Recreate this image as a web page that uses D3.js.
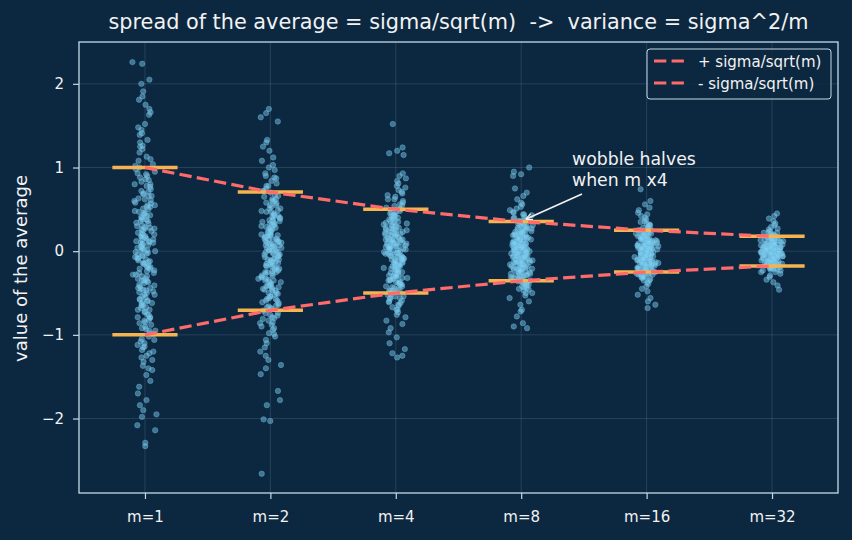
<!DOCTYPE html>
<html>
<head>
<meta charset="utf-8">
<script src="https://cdn.jsdelivr.net/npm/d3@7"></script>
<style>
  body { margin: 0; background: #0c2841; }
  svg { display: block; font-family: "DejaVu Sans", sans-serif; }
</style>
</head>
<body>
<svg id="chart" width="852" height="540"></svg>
<script>
// categories and their theoretical spread sigma/sqrt(m), sigma = 1
const groups = ["m=1", "m=2", "m=4", "m=8", "m=16", "m=32"];
const spread = [1.0, 0.707, 0.5, 0.354, 0.25, 0.177];

const samples_m1 = [2.26, 2.24, 2.05, 2.0, 1.91, 1.85, 1.81, 1.75, 1.7, 1.66, 1.63, 1.52, 1.48, 1.45, 1.41, 1.39, 1.33, 1.3, 1.26, 1.22, 1.18, 1.13, 1.08, 1.04, 1.0, 0.98, 0.95, 0.92, 0.9, 0.86, 0.83, 0.8, 0.77, 0.74, 0.71, 0.69, 0.66, 0.63, 0.61, 0.58, 0.55, 0.53, 0.5, 0.48, 0.45, 0.43, 0.41, 0.38, 0.36, 0.34, 0.31, 0.29, 0.27, 0.25, 0.22, 0.2, 0.18, 0.16, 0.14, 0.12, 0.1, 0.08, 0.06, 0.04, 0.02, 0.01, -0.01, -0.03, -0.05, -0.07, -0.09, -0.11, -0.13, -0.15, -0.17, -0.19, -0.21, -0.24, -0.26, -0.28, -0.3, -0.33, -0.35, -0.37, -0.4, -0.42, -0.44, -0.47, -0.49, -0.52, -0.54, -0.57, -0.6, -0.62, -0.65, -0.68, -0.7, -0.73, -0.76, -0.79, -0.82, -0.85, -0.88, -0.92, -0.95, -0.99, -1.02, -1.06, -1.1, -1.14, -1.18, -1.22, -1.27, -1.32, -1.37, -1.42, -1.48, -1.55, -1.62, -1.7, -1.78, -1.84, -1.9, -1.95, -1.98, -2.08, -2.14, -2.29, -2.33,
    0.03, -0.12, 0.27, -0.35, 0.51, -0.58, 0.15, -0.04, 0.66, -0.79, 0.38, -0.21, 0.09, -0.46, 0.72, -0.95, 0.21, -0.15, 0.44, -0.63, 0.85, -1.08, 0.0, -0.3, 0.57, -0.72, 0.12, -0.08, 0.33, -0.52, 0.93, -1.2, 0.18, -0.26, 0.6, -0.86, 0.05, -0.41, 0.47, -0.67, 1.1, -1.3, 0.24, -0.02, 0.4, -0.55, 0.78, -0.9, 0.1, -0.18, 0.3, -0.44, 1.02, -1.15, 0.07, -0.33, 0.53, -0.76, 0.2, -0.1, 0.36, -0.5, 0.68, -0.98, 0.14, -0.23, 1.25, -1.4, 0.01, -0.38, 0.46, -0.61, 0.28, -0.06, 0.62, -0.83, 0.17, -0.28, 0.88, -1.05, -0.48, -0.7, -0.14, 0.42, -0.59, -0.93, 0.26, -0.36, -1.12, 0.8, -0.2, -0.65, 0.55, -0.8, 0.11, -1.25, -0.45];
const samples_m2 = [1.7, 1.65, 1.6, 1.55, 1.33, 1.3, 1.25, 1.2, 1.12, 1.08, 1.03, 1.0, 0.97, 0.93, 0.9, 0.87, 0.84, 0.81, 0.78, 0.75, 0.72, 0.7, 0.67, 0.65, 0.62, 0.6, 0.58, 0.55, 0.53, 0.51, 0.49, 0.47, 0.45, 0.43, 0.41, 0.39, 0.37, 0.35, 0.33, 0.31, 0.29, 0.27, 0.26, 0.24, 0.22, 0.2, 0.19, 0.17, 0.15, 0.14, 0.12, 0.1, 0.09, 0.07, 0.05, 0.04, 0.02, 0.01, -0.01, -0.02, -0.04, -0.05, -0.07, -0.09, -0.1, -0.12, -0.13, -0.15, -0.17, -0.18, -0.2, -0.22, -0.24, -0.25, -0.27, -0.29, -0.31, -0.33, -0.35, -0.37, -0.39, -0.41, -0.43, -0.45, -0.47, -0.5, -0.52, -0.54, -0.57, -0.59, -0.62, -0.65, -0.68, -0.71, -0.74, -0.77, -0.8, -0.83, -0.86, -0.9, -0.94, -0.98, -1.02, -1.06, -1.1, -1.15, -1.2, -1.25, -1.3, -1.36, -1.4, -1.47, -1.67, -1.78, -1.84, -2.01, -2.03, -2.66,
    0.02, -0.09, 0.19, -0.25, 0.36, -0.41, 0.11, -0.03, 0.47, -0.56, 0.27, -0.15, 0.06, -0.33, 0.51, -0.67, 0.15, -0.11, 0.31, -0.45, 0.6, -0.76, 0.0, -0.21, 0.4, -0.51, 0.08, -0.06, 0.23, -0.37, 0.66, -0.85, 0.13, -0.18, 0.42, -0.61, 0.04, -0.29, 0.33, -0.47, 0.78, -0.92, 0.17, -0.01, 0.28, -0.39, 0.55, -0.64, 0.07, -0.13, 0.21, -0.31, 0.72, -0.81, 0.05, -0.23, 0.37, -0.54, 0.14, -0.07, 0.25, -0.35, 0.48, -0.69, 0.1, -0.16, 0.88, -0.99, 0.01, -0.27, 0.33, -0.43, 0.2, -0.04, 0.44, -0.59, 0.12, -0.2, 0.62, -0.74, -0.34, -0.5, -0.1, 0.3, -0.42, -0.66, 0.18, -0.25, -0.79, 0.57, -0.14, -0.46, 0.39, -0.57, 0.08, -0.88];
const samples_m4 = [1.52, 1.24, 1.2, 1.17, 1.15, 0.93, 0.9, 0.87, 0.84, 0.81, 0.78, 0.76, 0.73, 0.71, 0.69, 0.67, 0.65, 0.62, 0.6, 0.58, 0.56, 0.54, 0.52, 0.5, 0.48, 0.47, 0.45, 0.43, 0.42, 0.4, 0.38, 0.37, 0.35, 0.34, 0.32, 0.31, 0.29, 0.28, 0.26, 0.25, 0.23, 0.22, 0.21, 0.19, 0.18, 0.17, 0.15, 0.14, 0.13, 0.11, 0.1, 0.09, 0.07, 0.06, 0.05, 0.03, 0.02, 0.01, -0.01, -0.02, -0.03, -0.05, -0.06, -0.07, -0.09, -0.1, -0.11, -0.13, -0.14, -0.16, -0.17, -0.18, -0.2, -0.21, -0.23, -0.24, -0.26, -0.27, -0.29, -0.3, -0.32, -0.33, -0.35, -0.37, -0.38, -0.4, -0.42, -0.44, -0.46, -0.48, -0.5, -0.52, -0.54, -0.56, -0.59, -0.61, -0.64, -0.67, -0.7, -0.73, -0.76, -0.79, -0.83, -0.87, -0.92, -0.97, -1.03, -1.1, -1.17, -1.22, -1.25, -1.27,
    0.02, -0.06, 0.13, -0.18, 0.25, -0.29, 0.08, -0.02, 0.33, -0.39, 0.19, -0.1, 0.04, -0.23, 0.36, -0.47, 0.1, -0.08, 0.22, -0.32, 0.42, -0.54, 0.0, -0.15, 0.28, -0.36, 0.06, -0.04, 0.16, -0.26, 0.46, -0.6, 0.09, -0.13, 0.3, -0.43, 0.03, -0.2, 0.24, -0.34, 0.55, -0.65, 0.12, -0.01, 0.2, -0.28, 0.39, -0.45, 0.05, -0.09, 0.15, -0.22, 0.51, -0.57, 0.04, -0.16, 0.26, -0.38, 0.1, -0.05, 0.18, -0.25, 0.34, -0.49, 0.07, -0.11, 0.62, -0.7, 0.01, -0.19, 0.23, -0.3, 0.14, -0.03, 0.31, -0.42, 0.09, -0.14, 0.44, -0.52, -0.24, -0.35, -0.07, 0.21, -0.3, -0.47, 0.13, -0.18, -0.56, 0.4, -0.1, -0.33, 0.27, -0.4, 0.06, -0.62];
const samples_m8 = [1.0, 0.95, 0.92, 0.9, 0.75, 0.7, 0.66, 0.62, 0.58, 0.56, 0.53, 0.51, 0.49, 0.47, 0.46, 0.44, 0.43, 0.41, 0.4, 0.38, 0.37, 0.36, 0.34, 0.33, 0.32, 0.31, 0.3, 0.28, 0.27, 0.26, 0.25, 0.24, 0.23, 0.22, 0.21, 0.2, 0.19, 0.18, 0.17, 0.16, 0.15, 0.14, 0.13, 0.12, 0.11, 0.1, 0.09, 0.08, 0.07, 0.06, 0.05, 0.04, 0.03, 0.02, 0.01, 0.0, -0.01, -0.02, -0.03, -0.04, -0.05, -0.06, -0.07, -0.08, -0.09, -0.1, -0.11, -0.12, -0.13, -0.14, -0.15, -0.16, -0.17, -0.18, -0.19, -0.2, -0.21, -0.22, -0.24, -0.25, -0.26, -0.27, -0.29, -0.3, -0.31, -0.33, -0.34, -0.36, -0.37, -0.39, -0.41, -0.43, -0.45, -0.47, -0.5, -0.53, -0.56, -0.6, -0.64, -0.7, -0.72, -0.78, -0.86, -0.9, -0.92,
    0.01, -0.04, 0.09, -0.13, 0.18, -0.2, 0.06, -0.01, 0.23, -0.28, 0.13, -0.07, 0.03, -0.16, 0.25, -0.33, 0.07, -0.05, 0.16, -0.22, 0.3, -0.38, 0.0, -0.11, 0.2, -0.25, 0.04, -0.03, 0.11, -0.18, 0.33, -0.42, 0.06, -0.09, 0.21, -0.3, 0.02, -0.14, 0.17, -0.24, 0.39, -0.46, 0.08, -0.01, 0.14, -0.2, 0.27, -0.32, 0.04, -0.06, 0.1, -0.15, 0.36, -0.4, 0.03, -0.11, 0.19, -0.27, 0.07, -0.03, 0.12, -0.17, 0.24, -0.35, 0.05, -0.08, 0.44, -0.5, 0.01, -0.13, 0.16, -0.21, 0.1, -0.02, 0.22, -0.3, 0.06, -0.1, 0.31, -0.37, -0.17, -0.25, -0.05, 0.15, -0.21, -0.33, 0.09, -0.13, -0.4, 0.28, -0.07, -0.23, 0.19, -0.28, 0.04, -0.44];
const samples_m16 = [0.74, 0.6, 0.56, 0.52, 0.49, 0.46, 0.44, 0.42, 0.4, 0.38, 0.36, 0.35, 0.33, 0.32, 0.31, 0.29, 0.28, 0.27, 0.26, 0.25, 0.24, 0.23, 0.22, 0.21, 0.2, 0.19, 0.18, 0.17, 0.16, 0.15, 0.14, 0.135, 0.13, 0.12, 0.11, 0.1, 0.095, 0.09, 0.08, 0.07, 0.065, 0.06, 0.05, 0.04, 0.035, 0.03, 0.02, 0.01, 0.005, 0, -0.005, -0.01, -0.02, -0.03, -0.035, -0.04, -0.05, -0.06, -0.065, -0.07, -0.08, -0.09, -0.1, -0.11, -0.12, -0.13, -0.14, -0.15, -0.16, -0.17, -0.18, -0.19, -0.2, -0.21, -0.22, -0.23, -0.24, -0.25, -0.27, -0.28, -0.3, -0.31, -0.33, -0.35, -0.37, -0.39, -0.42, -0.45, -0.48, -0.52, -0.56, -0.6, -0.64, -0.68,
    0.01, -0.03, 0.06, -0.09, 0.12, -0.14, 0.04, -0.01, 0.16, -0.2, 0.09, -0.05, 0.02, -0.11, 0.18, -0.23, 0.05, -0.04, 0.11, -0.16, 0.21, -0.27, 0.0, -0.08, 0.14, -0.18, 0.03, -0.02, 0.08, -0.13, 0.23, -0.3, 0.04, -0.06, 0.15, -0.21, 0.01, -0.1, 0.12, -0.17, 0.27, -0.32, 0.06, -0.01, 0.1, -0.14, 0.19, -0.22, 0.03, -0.04, 0.07, -0.11, 0.25, -0.28, 0.02, -0.08, 0.13, -0.19, 0.05, -0.02, 0.09, -0.12, 0.17, -0.24, 0.03, -0.06, 0.31, -0.35, 0.01, -0.09, 0.11, -0.15, 0.07, -0.01, 0.15, -0.21, 0.04, -0.07, 0.22, -0.26, -0.12, -0.17, -0.03, 0.1, -0.15, -0.23, 0.06, -0.09, -0.28, 0.2, -0.05, -0.16, 0.13, -0.2, 0.03, -0.31];
const samples_m32 = [0.45, 0.42, 0.39, 0.36, 0.33, 0.31, 0.29, 0.27, 0.26, 0.24, 0.23, 0.22, 0.21, 0.2, 0.19, 0.18, 0.17, 0.16, 0.15, 0.145, 0.14, 0.13, 0.12, 0.115, 0.11, 0.1, 0.095, 0.09, 0.085, 0.08, 0.07, 0.065, 0.06, 0.055, 0.05, 0.045, 0.04, 0.035, 0.03, 0.025, 0.02, 0.015, 0.01, 0.005, 0, -0.005, -0.01, -0.015, -0.02, -0.025, -0.03, -0.04, -0.045, -0.05, -0.06, -0.065, -0.07, -0.08, -0.085, -0.09, -0.1, -0.11, -0.12, -0.13, -0.14, -0.15, -0.16, -0.17, -0.18, -0.19, -0.2, -0.22, -0.23, -0.25, -0.27, -0.29, -0.31, -0.34, -0.37, -0.41, -0.46,
    0.01, -0.02, 0.04, -0.06, 0.08, -0.1, 0.03, -0.01, 0.11, -0.14, 0.06, -0.04, 0.01, -0.08, 0.13, -0.16, 0.04, -0.03, 0.08, -0.11, 0.15, -0.19, 0.0, -0.05, 0.1, -0.13, 0.02, -0.01, 0.06, -0.09, 0.16, -0.21, 0.03, -0.04, 0.1, -0.15, 0.01, -0.07, 0.08, -0.12, 0.19, -0.23, 0.04, -0.01, 0.07, -0.1, 0.13, -0.16, 0.02, -0.03, 0.05, -0.08, 0.18, -0.2, 0.01, -0.06, 0.09, -0.13, 0.04, -0.01, 0.06, -0.09, 0.12, -0.17, 0.02, -0.04, 0.22, -0.25, 0.0, -0.06, 0.08, -0.11, 0.05, -0.01, 0.11, -0.15, 0.03, -0.05, 0.16, -0.18, -0.08, -0.12, -0.02, 0.07, -0.11, -0.16, 0.04, -0.06, -0.2, 0.14, -0.03, -0.11, 0.09, -0.14, 0.02, -0.22];
const samples = [samples_m1, samples_m2, samples_m4, samples_m8, samples_m16, samples_m32];

const yTicks = [-2, -1, 0, 1, 2];

const W = 852, H = 540;
const mLeft = 79, mRight = 838, mTop = 42, mBottom = 493;
const fg = "#f2f2f2", spine = "#c5d9e8";
const red = "#ff6b6b", orange = "#f5b451";

const svg = d3.select("#chart");
svg.append("rect").attr("width", W).attr("height", H).attr("fill", "#0c2841");

const x = d3.scaleLinear().domain([-0.526, 5.526]).range([mLeft, mRight]);
const y = d3.scaleLinear().domain([-2.89, 2.5]).range([mBottom, mTop]);

// grid
const grid = svg.append("g").attr("stroke", "#9fb8cc").attr("stroke-opacity", 0.22).attr("stroke-width", 0.8);
groups.forEach((g, i) => {
    grid.append("line").attr("x1", x(i)).attr("x2", x(i)).attr("y1", mTop).attr("y2", mBottom);
});
yTicks.forEach(t => {
    grid.append("line").attr("x1", mLeft).attr("x2", mRight).attr("y1", y(t)).attr("y2", y(t));
});

// jittered points (horizontal offset only, scrambled by index)
const frac = v => v - Math.floor(v);
const pts = [];
samples.forEach((list, gi) => {
    list.forEach((v, i) => {
        let a = frac(i * i * 0.5698403 + i * 0.7548777 + gi * 0.31);
        let b = frac(i * i * 0.3247180 + i * 0.1324718 + gi * 0.57);
        pts.push({gx: gi + ((a + b) / 2 - 0.5) * 0.2, v: v});
    });
});
svg.append("g").selectAll("circle").data(pts).join("circle")
    .attr("cx", d => x(d.gx))
    .attr("cy", d => y(d.v))
    .attr("r", 2.7)
    .attr("fill", "#80d4f8")
    .attr("fill-opacity", 0.45)
    .attr("stroke", "#6bb3d6")
    .attr("stroke-opacity", 0.55)
    .attr("stroke-width", 0.8);

// theory segments
const segs = svg.append("g").attr("stroke", orange).attr("stroke-width", 3.5);
spread.forEach((s, i) => {
    [s, -s].forEach(v => {
        segs.append("line").attr("x1", x(i - 0.26)).attr("x2", x(i + 0.26))
            .attr("y1", y(v)).attr("y2", y(v));
    });
});

// dashed +/- curves
const line = d3.line().x((d, i) => x(i)).y(d => y(d));
[spread, spread.map(s => -s)].forEach(arr => {
    svg.append("path").attr("d", line(arr))
        .attr("fill", "none").attr("stroke", red)
        .attr("stroke-width", 3.2).attr("stroke-dasharray", "12.3,5.3");
});

// axes
const xAxis = svg.append("g").attr("transform", `translate(0,${mBottom})`)
    .call(d3.axisBottom(x).tickValues(d3.range(groups.length)).tickFormat(i => groups[i]).tickSize(6).tickPadding(12));
const yAxis = svg.append("g").attr("transform", `translate(${mLeft},0)`)
    .call(d3.axisLeft(y).tickValues(yTicks).tickFormat(t => t < 0 ? "\u2212" + Math.abs(t) : t).tickSize(6).tickPadding(9));
[xAxis, yAxis].forEach(a => {
    a.select(".domain").remove();
    a.selectAll("line").attr("stroke", spine).attr("stroke-width", 1.2);
    a.selectAll("text").attr("fill", fg).attr("font-size", 15).attr("font-family", "DejaVu Sans");
});
svg.append("rect").attr("x", mLeft).attr("y", mTop).attr("width", mRight - mLeft).attr("height", mBottom - mTop)
    .attr("fill", "none").attr("stroke", spine).attr("stroke-width", 1.3);

// labels
svg.append("text").attr("x", (mLeft + mRight) / 2).attr("y", 29).attr("text-anchor", "middle")
    .attr("fill", fg).attr("font-size", 20.8)
    .style("white-space", "pre")
    .text("spread of the average = sigma/sqrt(m)  ->  variance = sigma^2/m");
svg.append("text").attr("transform", `translate(27,${(mTop + mBottom) / 2 + 1}) rotate(-90)`)
    .attr("text-anchor", "middle").attr("fill", fg).attr("font-size", 18)
    .text("value of the average");

// annotation
const ann = svg.append("text").attr("fill", fg).attr("font-size", 17.3);
ann.append("tspan").attr("x", 572).attr("y", 165).text("wobble halves");
ann.append("tspan").attr("x", 572).attr("y", 186).text("when m x4");
svg.append("defs").append("marker").attr("id", "ah").attr("viewBox", "0 0 10 10")
    .attr("refX", 9).attr("refY", 5).attr("markerWidth", 7).attr("markerHeight", 7)
    .attr("markerUnits", "userSpaceOnUse")
    .attr("orient", "auto").append("path").attr("d", "M0,0.5 L10,5 L0,9.5").attr("fill", "none")
    .attr("stroke", fg).attr("stroke-width", 1.8);
svg.append("line").attr("x1", 582).attr("y1", 194).attr("x2", x(3) + 5).attr("y2", y(spread[3]) - 2.5)
    .attr("stroke", fg).attr("stroke-width", 1.6).attr("marker-end", "url(#ah)");

// legend
const lg = svg.append("g").attr("transform", "translate(647,49)");
lg.append("rect").attr("width", 184).attr("height", 50).attr("rx", 3)
    .attr("fill", "#0c2841").attr("fill-opacity", 0.8).attr("stroke", spine).attr("stroke-width", 1);
["+ sigma/sqrt(m)", "- sigma/sqrt(m)"].forEach((t, i) => {
    const yy = 12 + i * 22;
    lg.append("line").attr("x1", 7).attr("x2", 37).attr("y1", yy).attr("y2", yy)
        .attr("stroke", red).attr("stroke-width", 3.2).attr("stroke-dasharray", "12.3,5.3");
    lg.append("text").attr("x", 51).attr("y", yy + 5.5).attr("fill", fg).attr("font-size", 15).text(t);
});
</script>
</body>
</html>
